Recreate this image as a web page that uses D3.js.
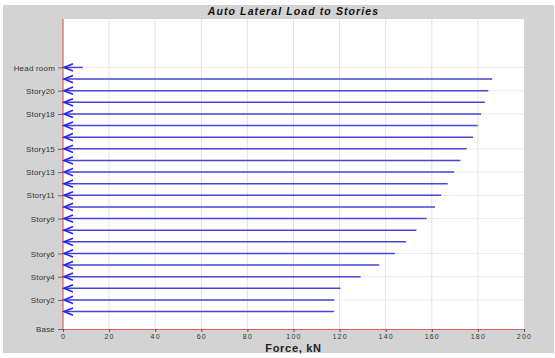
<!DOCTYPE html>
<html>
<head>
<meta charset="utf-8">
<script src="https://cdn.jsdelivr.net/npm/d3@7"></script>
<style>
  html, body { margin: 0; padding: 0; background: #ffffff; }
  svg { display: block; }
</style>
</head>
<body>
<svg id="chart" width="555" height="358"></svg>
<script>
// Storey levels (bottom to top) and their elevations in metres
const levels = ["Base", "Story1", "Story2", "Story3", "Story4", "Story5", "Story6", "Story7",
  "Story8", "Story9", "Story10", "Story11", "Story12", "Story13", "Story14", "Story15",
  "Story16", "Story17", "Story18", "Story19", "Story20", "Story21", "Head room"];
const elevations = [0, 4.5, 7.5, 10.5, 13.5, 16.5, 19.5, 22.5, 25.5, 28.5, 31.5, 34.5,
  37.5, 40.5, 43.5, 46.5, 49.5, 52.5, 55.5, 58.5, 61.5, 64.5, 67.5];

// Auto lateral load applied at each level, kN (Base carries none)
const loadLevels = ["Story1", "Story2", "Story3", "Story4", "Story5", "Story6", "Story7",
  "Story8", "Story9", "Story10", "Story11", "Story12", "Story13", "Story14", "Story15",
  "Story16", "Story17", "Story18", "Story19", "Story20", "Story21", "Head room"];
const forces = [117.6, 117.7, 120.4, 129.1, 137.2, 144.0, 148.8, 153.3, 157.8, 161.4, 164.1,
  166.9, 169.7, 172.4, 175.1, 177.9, 179.9, 181.4, 183.0, 184.5, 186.2, 8.6];

// Levels that get a tick label on the vertical axis
const labelledLevels = ["Base", "Story2", "Story4", "Story6", "Story9", "Story11", "Story13",
  "Story15", "Story18", "Story20", "Head room"];

// Force axis ticks
const forceTicks = [0, 20, 40, 60, 80, 100, 120, 140, 160, 180, 200];

const svg = d3.select("#chart");
const plot = { left: 63, right: 524, top: 19, bottom: 329 };

// Outer grey panel
svg.append("rect").attr("x", 3).attr("y", 5).attr("width", 551).attr("height", 348)
  .attr("fill", "#d3d3d3");

const x = d3.scaleLinear().domain([0, 200]).range([plot.left, plot.right]);
const y = d3.scaleLinear().domain([0, 80]).range([plot.bottom, plot.top]);
const elevOf = new Map(levels.map((l, i) => [l, elevations[i]]));

// Plot background
svg.append("rect")
  .attr("x", plot.left).attr("y", plot.top)
  .attr("width", plot.right - plot.left).attr("height", plot.bottom - plot.top)
  .attr("fill", "#ffffff");

// Grid lines
const grid = svg.append("g");
grid.selectAll("line.v").data(forceTicks.slice(1, -1)).join("line")
  .attr("x1", d => x(d)).attr("x2", d => x(d))
  .attr("y1", plot.top).attr("y2", plot.bottom)
  .attr("stroke", "#e2e2e2").attr("stroke-width", 1);
grid.selectAll("line.h").data(labelledLevels.slice(1)).join("line")
  .attr("x1", plot.left).attr("x2", plot.right)
  .attr("y1", d => y(elevOf.get(d))).attr("y2", d => y(elevOf.get(d)))
  .attr("stroke", "#ebebeb").attr("stroke-width", 1);

// X axis
const xAxis = svg.append("g").attr("transform", `translate(0,${plot.bottom})`)
  .call(d3.axisBottom(x).tickValues(forceTicks).tickSize(3).tickPadding(2));
xAxis.select(".domain").attr("stroke", "#e06060").attr("stroke-width", 1);
xAxis.selectAll(".tick line").attr("stroke", "#555");
xAxis.selectAll(".tick text")
  .attr("font-family", "Liberation Sans, Arial, sans-serif")
  .attr("font-size", 7).attr("letter-spacing", 1.2).attr("fill", "#333");

// Y axis
const yAxis = svg.append("g").attr("transform", `translate(${plot.left},0)`)
  .call(d3.axisLeft(y)
    .tickValues(labelledLevels.map(l => elevOf.get(l)))
    .tickFormat((d, i) => labelledLevels[i])
    .tickSize(5).tickPadding(3));
yAxis.select(".domain").attr("stroke", "#e06060").attr("stroke-width", 1.2)
  .attr("d", `M0,${plot.top}V${plot.bottom}`);
yAxis.selectAll(".tick line").attr("stroke", "#666");
yAxis.selectAll(".tick text")
  .attr("font-family", "Liberation Sans, Arial, sans-serif")
  .attr("font-size", 8).attr("letter-spacing", 0.2).attr("fill", "#333");

// Load arrows: a line from the force value back to the axis with an open head at the axis
const loads = loadLevels.map((l, i) => ({ level: l, force: forces[i], elev: elevOf.get(l) }));
const arrows = svg.append("g");
arrows.selectAll("line").data(loads).join("line")
  .attr("x1", x(0) + 1).attr("x2", d => x(d.force))
  .attr("y1", d => y(d.elev)).attr("y2", d => y(d.elev))
  .attr("stroke", "#4646d6").attr("stroke-width", 1.5);
arrows.selectAll("path").data(loads).join("path")
  .attr("d", d => {
    const x0 = x(0) + 1, yy = y(d.elev);
    return `M${x0 + 9},${yy - 3.6}L${x0},${yy}L${x0 + 9},${yy + 3.6}`;
  })
  .attr("fill", "none").attr("stroke", "#2626f0").attr("stroke-width", 1.6)
  .attr("stroke-linejoin", "miter");

// Title
svg.append("text")
  .attr("x", (plot.left + plot.right) / 2).attr("y", 15)
  .attr("text-anchor", "middle")
  .attr("font-family", "Liberation Sans, Arial, sans-serif")
  .attr("font-size", 10.5).attr("font-weight", "bold").attr("font-style", "italic")
  .attr("letter-spacing", 1.1).attr("fill", "#111")
  .text("Auto Lateral Load to Stories");

// X axis title
svg.append("text")
  .attr("x", (plot.left + plot.right) / 2).attr("y", 352)
  .attr("text-anchor", "middle")
  .attr("font-family", "Liberation Sans, Arial, sans-serif")
  .attr("font-size", 11).attr("font-weight", "bold")
  .attr("letter-spacing", 0.7).attr("fill", "#222")
  .text("Force, kN");
</script>
</body>
</html>
